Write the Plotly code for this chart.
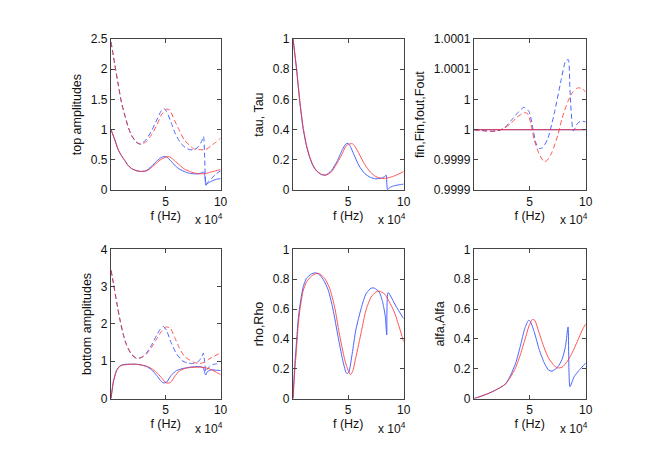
import plotly.graph_objects as go
from plotly.subplots import make_subplots

# frequencies in kHz, converted to Hz below
# --- top amplitudes
tl_f_r = [0.5, 4, 7, 10, 13, 16, 19, 24, 28, 33, 37, 42, 46, 51, 54, 58, 63, 67, 72, 76, 82, 86.5, 91, 95.5, 100]
tl_red_dash = [2.45, 2.07, 1.75, 1.45, 1.24, 1.05, 0.91, 0.79, 0.76, 0.81, 0.91, 1.07, 1.24, 1.34, 1.32, 1.16, 0.97, 0.83, 0.74, 0.68, 0.67, 0.67, 0.73, 0.79, 0.86]
tl_red = [1.0, 0.83, 0.67, 0.57, 0.49, 0.41, 0.36, 0.32, 0.31, 0.32, 0.37, 0.45, 0.51, 0.55, 0.55, 0.49, 0.41, 0.35, 0.31, 0.285, 0.27, 0.275, 0.3, 0.32, 0.34]
tl_f_b = [0.5, 4, 7, 10, 13, 16, 19, 23, 27, 32, 37, 42, 46, 48.5, 51, 55, 59, 63, 68, 72, 76, 80, 83, 84.5, 85.5, 86.7, 88, 92, 96, 100]
tl_blue_dash = [2.45, 2.07, 1.75, 1.45, 1.24, 1.05, 0.91, 0.8, 0.76, 0.83, 0.97, 1.16, 1.31, 1.35, 1.3, 1.12, 0.93, 0.8, 0.7, 0.67, 0.67, 0.72, 0.82, 0.89, 0.55, 0.09, 0.13, 0.2, 0.27, 0.32]
tl_blue = [1.0, 0.83, 0.67, 0.57, 0.49, 0.41, 0.36, 0.325, 0.31, 0.32, 0.39, 0.48, 0.54, 0.555, 0.55, 0.48, 0.4, 0.345, 0.3, 0.28, 0.27, 0.27, 0.29, 0.3, 0.26, 0.08, 0.11, 0.15, 0.18, 0.19]

# --- tau, Tau
tm_f_r = [0.5, 3.6, 6.6, 9.5, 12.5, 15.5, 18.5, 21.5, 26, 30, 35, 39, 44, 48, 51, 54, 57, 60, 65, 70, 75, 80, 85, 90, 95, 100]
tm_red = [1.0, 0.81, 0.59, 0.42, 0.30, 0.22, 0.165, 0.13, 0.105, 0.10, 0.12, 0.165, 0.23, 0.29, 0.305, 0.307, 0.28, 0.24, 0.17, 0.12, 0.09, 0.078, 0.08, 0.09, 0.105, 0.123]
tm_f_b = [0.5, 3.6, 6.6, 9.5, 12.5, 15.5, 18.5, 21.5, 26, 30, 35, 40, 45, 48, 50, 52, 55, 60, 65, 70, 75, 80, 83, 84.3, 85.5, 88, 92, 97, 100]
tm_blue = [1.0, 0.80, 0.58, 0.41, 0.295, 0.215, 0.16, 0.128, 0.103, 0.10, 0.13, 0.19, 0.27, 0.305, 0.31, 0.29, 0.24, 0.16, 0.11, 0.085, 0.075, 0.08, 0.09, 0.1, 0.005, 0.02, 0.03, 0.037, 0.04]

# --- fin, Fin, fout, Fout
tr_f_r = [0.5, 10, 20, 27, 33, 39, 45, 48, 51, 54, 58.5, 63, 66, 70, 75, 79, 84, 88, 92.6, 97, 100]
tr_red_dash = [1.0, 0.999998, 0.999998, 1.000002, 1.00001, 1.000021, 1.000028, 1.000027, 1.000011, 0.999984, 0.99996, 0.999947, 0.99995, 0.999963, 0.99999, 1.000019, 1.000046, 1.000061, 1.000069, 1.000068, 1.000062]
tr_f_b = [0.5, 6.5, 11, 15.4, 21, 27, 33, 39, 45, 49.5, 52.5, 55.5, 58.5, 61.4, 66, 72, 78, 82, 84.5, 86, 89, 92.6, 95.5, 100]
tr_blue_dash = [1.0, 0.999999, 0.999998, 0.999997, 0.999998, 1.000002, 1.000014, 1.000027, 1.000037, 1.00003, 1.000006, 0.999979, 0.999969, 0.99997, 0.999984, 1.000027, 1.000081, 1.000113, 1.000116, 1.000065, 0.999998, 1.00001, 1.000014, 1.000013]
tr_f_s = [0.5, 100]
tr_solid = [1.0, 1.0]
tr_ticks = [0.9999, 0.99995, 1.0, 1.00005, 1.0001, 1.00015]
tr_ticktext = ["0.9999", "0.9999", "1", "1", "1.0001", "1.0001"]

# --- bottom amplitudes
bl_f_r = [0.5, 2.7, 5.7, 8.7, 11.7, 14.7, 19, 23.6, 28, 32.6, 37, 41.6, 46, 50.6, 54.5, 58, 62.5, 67, 71.5, 76, 80.5, 85, 89.5, 94, 100]
bl_red_dash = [3.44, 3.09, 2.57, 2.10, 1.71, 1.43, 1.19, 1.08, 1.10, 1.19, 1.36, 1.58, 1.79, 1.92, 1.88, 1.66, 1.36, 1.14, 1.04, 0.97, 0.94, 0.97, 1.06, 1.13, 1.23]
bl_red = [0, 0.45, 0.75, 0.87, 0.9, 0.91, 0.92, 0.92, 0.9, 0.87, 0.81, 0.71, 0.57, 0.42, 0.43, 0.58, 0.74, 0.8, 0.83, 0.84, 0.84, 0.83, 0.8, 0.74, 0.64]
bl_f_b = [0.5, 2.7, 5.7, 8.7, 11.7, 14.7, 19, 23.6, 28, 32.6, 37, 42, 45, 48, 51, 55, 60, 65, 70, 75, 80, 83, 84.3, 85.5, 86.5, 88, 92, 96, 100]
bl_blue_dash = [3.44, 3.09, 2.57, 2.10, 1.71, 1.43, 1.19, 1.08, 1.10, 1.22, 1.42, 1.7, 1.85, 1.93, 1.82, 1.5, 1.2, 1.02, 0.95, 0.94, 1.0, 1.12, 1.22, 1.0, 0.72, 0.8, 0.9, 0.93, 0.95]
bl_blue = [0, 0.47, 0.77, 0.88, 0.91, 0.92, 0.92, 0.92, 0.9, 0.86, 0.78, 0.62, 0.5, 0.42, 0.44, 0.62, 0.75, 0.8, 0.83, 0.85, 0.86, 0.85, 0.83, 0.7, 0.63, 0.72, 0.77, 0.76, 0.75]

# --- rho, Rho
bm_f_r = [0.5, 2, 3.6, 5, 6.6, 9.5, 12.5, 17, 21.5, 24.5, 29, 33.4, 38, 42, 47, 50, 52.2, 54, 57, 62, 66, 70.7, 75, 78, 83, 87, 91.6, 96, 100]
bm_red = [0, 0.18, 0.33, 0.48, 0.59, 0.72, 0.78, 0.82, 0.838, 0.835, 0.805, 0.74, 0.61, 0.44, 0.26, 0.19, 0.16, 0.18, 0.275, 0.45, 0.59, 0.68, 0.714, 0.72, 0.70, 0.65, 0.58, 0.48, 0.38]
bm_f_b = [0.5, 2, 3.6, 5, 6.6, 9.5, 12.5, 17, 20, 23, 27.5, 32, 36.4, 41, 45, 48, 49, 50.7, 53.7, 57, 62, 66, 70.7, 73.7, 78, 81, 83.5, 84.8, 86, 93, 100]
bm_blue = [0, 0.22, 0.38, 0.52, 0.62, 0.745, 0.805, 0.835, 0.842, 0.838, 0.80, 0.73, 0.60, 0.415, 0.264, 0.177, 0.167, 0.177, 0.30, 0.46, 0.61, 0.70, 0.74, 0.74, 0.714, 0.65, 0.55, 0.426, 0.71, 0.62, 0.535]

# --- alfa, Alfa
br_f_r = [0.5, 6.5, 12.5, 18.4, 24.3, 28.8, 33, 37.7, 42, 46.6, 49.5, 52.5, 54.6, 58.5, 63, 67, 72, 75, 79, 83.7, 88, 92.6, 97, 100]
br_red = [0, 0.015, 0.032, 0.052, 0.076, 0.10, 0.145, 0.21, 0.30, 0.415, 0.487, 0.53, 0.524, 0.44, 0.34, 0.27, 0.22, 0.205, 0.21, 0.25, 0.307, 0.383, 0.46, 0.50]
br_f_b = [0.5, 6.5, 12.5, 18.4, 24.3, 28.8, 33, 37.7, 42, 45.7, 49, 50.4, 54, 58.5, 63, 67, 70, 75, 79, 82, 84.3, 86, 89.6, 94, 100]
br_blue = [0, 0.015, 0.032, 0.052, 0.076, 0.10, 0.156, 0.24, 0.36, 0.47, 0.524, 0.52, 0.45, 0.33, 0.24, 0.19, 0.184, 0.21, 0.264, 0.35, 0.48, 0.08, 0.145, 0.188, 0.238]

BLUE = "#4a66ff"
RED = "#ff2b2b"
FONT = "Liberation Sans, Arial, sans-serif"


def hz(f):
    return [v * 1000 for v in f]


fig = make_subplots(rows=2, cols=3)


def add(row, col, f, y, color, dash=False):
    fig.add_trace(go.Scatter(
        x=hz(f), y=y, mode="lines",
        line=dict(color=color, width=1, dash="5px,3px" if dash else "solid",
                  shape="spline", smoothing=0.6),
        opacity=0.8 if color == RED else 1.0,
        showlegend=False, hoverinfo="skip"), row=row, col=col)


add(1, 1, tl_f_b, tl_blue_dash, BLUE, True)
add(1, 1, tl_f_b, tl_blue, BLUE)
add(1, 1, tl_f_r, tl_red_dash, RED, True)
add(1, 1, tl_f_r, tl_red, RED)

add(1, 2, tm_f_b, tm_blue, BLUE)
add(1, 2, tm_f_r, tm_red, RED)

add(1, 3, tr_f_b, tr_blue_dash, BLUE, True)
add(1, 3, tr_f_s, tr_solid, BLUE)
add(1, 3, tr_f_r, tr_red_dash, RED, True)
add(1, 3, tr_f_s, tr_solid, RED)

add(2, 1, bl_f_b, bl_blue_dash, BLUE, True)
add(2, 1, bl_f_b, bl_blue, BLUE)
add(2, 1, bl_f_r, bl_red_dash, RED, True)
add(2, 1, bl_f_r, bl_red, RED)

add(2, 2, bm_f_b, bm_blue, BLUE)
add(2, 2, bm_f_r, bm_red, RED)

add(2, 3, br_f_b, br_blue, BLUE)
add(2, 3, br_f_r, br_red, RED)

W, H = 654, 455
cols_px = [(112, 223), (296, 408), (479, 592)]
rows_px = [(33, 189), (250, 404)]

axis_style = dict(showgrid=False, zeroline=False, showline=True, linecolor="#444",
                  linewidth=1, mirror="ticks", ticks="inside", ticklen=4,
                  tickcolor="#444", tickfont=dict(size=12, color="#111"))

ylabels = [["top amplitudes", "tau, Tau", "fin,Fin,fout,Fout"],
           ["bottom amplitudes", "rho,Rho", "alfa,Alfa"]]
yranges = [[[0, 2.5], [0, 1], [0.9999 - 1e-10, 1.00015 + 1e-10]],
           [[0, 4], [0, 1], [0, 1]]]
ydticks = [[0.5, 0.2, None], [1, 0.2, 0.2]]

for r in range(2):
    for c in range(3):
        x0, x1 = cols_px[c]
        y0, y1 = rows_px[r]
        fig.update_xaxes(domain=[x0 / W, x1 / W], range=[300, 100000],
                         tickvals=[50000, 100000], ticktext=["5", "10"],
                         title=dict(text="f (Hz)", font=dict(size=12.5, color="#111"), standoff=2),
                         row=r + 1, col=c + 1, **axis_style)
        yopts = dict(domain=[1 - y1 / H, 1 - y0 / H], range=yranges[r][c],
                     title=dict(text=ylabels[r][c], font=dict(size=12.5, color="#111"), standoff=6))
        if ydticks[r][c] is None:
            yopts.update(tickvals=tr_ticks, ticktext=tr_ticktext)
        else:
            yopts.update(tick0=0, dtick=ydticks[r][c])
        fig.update_yaxes(row=r + 1, col=c + 1, **yopts, **axis_style)
        fig.add_annotation(text="x 10<sup>4</sup>", xref="paper", yref="paper",
                           x=(x1 + 4) / W, y=1 - (y1 + 30) / H, xanchor="right", yanchor="middle",
                           showarrow=False, font=dict(size=12, color="#111"))

fig.update_layout(width=W, height=H, margin=dict(l=0, r=0, t=0, b=0),
                  paper_bgcolor="white", plot_bgcolor="white",
                  font=dict(family=FONT, color="#111"))

# page body has a default 8px margin; drop it so the figure sits at the corner
fig.write_html("out.html", config={"displayModeBar": False},
               post_script="document.body.style.margin='0px';")
